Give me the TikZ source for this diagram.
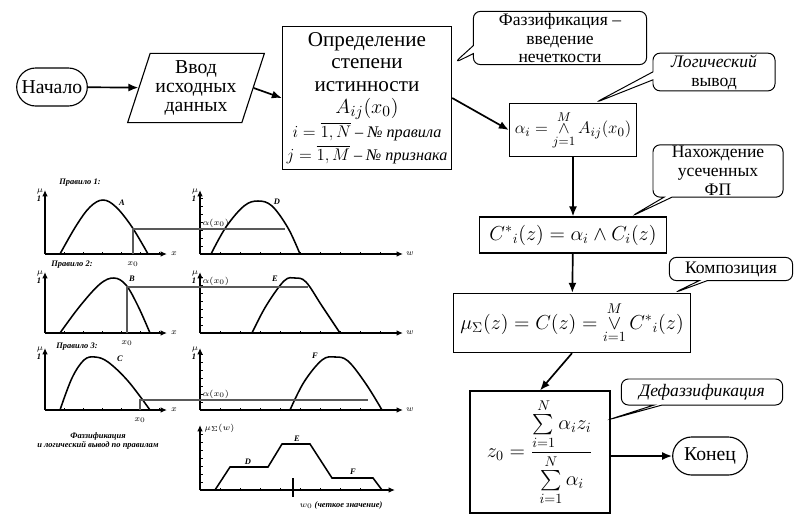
\documentclass[tikz,border=0pt]{standalone}
\usepackage{amsmath}
\usepackage{fontspec}
\setmainfont{Liberation Serif}
\usepackage{tikz}
\usetikzlibrary{arrows.meta, positioning, calc, shapes.geometric, shapes.misc, shapes.callouts}

\begin{document}
\begin{tikzpicture}[x=0.025cm, y=-0.025cm,
  block/.style={rectangle, draw, line width=0.8pt, align=center, inner sep=2pt},
  term/.style={rounded rectangle, draw, line width=0.8pt, minimum width=2cm, minimum height=0.95cm, font=\fontsize{14}{15}\selectfont},
  note/.style={rectangle callout, draw, line width=0.7pt, rounded corners=5pt, align=center, callout pointer width=0.2cm, inner sep=1pt, font=\fontsize{12.5}{13.5}\selectfont},
  arrow/.style={-{Latex[length=2.5mm, width=2mm]}, line width=1.2pt},
  axis/.style={-{Latex[length=1.6mm, width=1.4mm]}, line width=1pt},
  curve/.style={line width=1.1pt},
  cut/.style={gray!70!black, line width=1pt},
  lbl/.style={font=\fontsize{6}{7}\selectfont\itshape\bfseries, inner sep=1pt}
]
\useasboundingbox (0,0) rectangle (801,514);
% flowchart
\node[term] (start) at (52,87) {Начало};
\node[trapezium, trapezium left angle=70, trapezium right angle=110, trapezium stretches=true, draw, line width=0.8pt, minimum width=3.43cm, minimum height=1.73cm, align=center, inner sep=0pt, font=\fontsize{14}{13.5}\selectfont] (input) at (196,88) {Ввод\\исходных\\данных};
\node[block, minimum width=4.23cm, minimum height=3.58cm, font=\fontsize{15}{16}\selectfont] (degree) at (367,98) {Определение\\степени\\истинности\\$A_{ij}(x_0)$\\[1pt]{\fontsize{11.5}{17}\selectfont $i=\overline{1,N}$ -- \textit{№ правила}}\\{\fontsize{11.5}{17}\selectfont $j=\overline{1,M}$ -- \textit{№ признака}}};
\node[block, minimum width=3.18cm, minimum height=1.33cm, font=\fontsize{13}{15}\selectfont] (alpha) at (573,130) {$\alpha_i=\mathop{\wedge}\limits_{j=1}^{M}A_{ij}(x_0)$};
\node[block, minimum width=4.68cm, minimum height=0.9cm, font=\Large] (cstar) at (573,235) {$C^{*}{}_{i}(z)=\alpha_i\wedge C_i(z)$};
\node[block, minimum width=5.93cm, minimum height=1.48cm, font=\Large] (mu) at (572,323) {$\mu_{\Sigma}(z)=C(z)=\mathop{\vee}\limits_{i=1}^{M}C^{*}{}_{i}(z)$};
\node[block, minimum width=3.5cm, minimum height=3.05cm, font=\Large] (zzero) at (540,452) {$z_0=\dfrac{\sum\limits_{i=1}^{N}\alpha_i z_i}{\sum\limits_{i=1}^{N}\alpha_i}$};
\node[term, minimum width=2.1cm] (finish) at (710,456) {Конец};
% callout tips
\coordinate (tipfuzz) at ($(degree.east)+(2,-35)$);
\coordinate (tiplogic) at ($(alpha.north)+(22,0)$);
\coordinate (tipcut) at ($(cstar.north east)+(-36,0)$);
\coordinate (tipcomp) at ($(mu.north east)+(-17,0)$);
\coordinate (tipdefuzz) at ($(zzero.east)+(-3,-32)$);
\node[note, minimum width=4.33cm, minimum height=1.33cm, callout absolute pointer={(tipfuzz)}] (fuzz) at (560,38) {Фаззификация --\\введение\\нечеткости};
\node[note, minimum width=3.05cm, minimum height=0.88cm, callout absolute pointer={(tiplogic)}] (logic) at (714,72) {\textit{Логический}\\вывод};
\node[note, minimum width=3.25cm, minimum height=1.18cm, callout absolute pointer={(tipcut)}] (cut) at (718,171) {Нахождение\\усеченных\\ФП};
\node[note, minimum width=3.08cm, minimum height=0.58cm, callout absolute pointer={(tipcomp)}] (comp) at (731,269) {Композиция};
\node[note, minimum width=4.03cm, minimum height=0.65cm, callout absolute pointer={(tipdefuzz)}, font=\fontsize{12.5}{13.5}\selectfont\itshape] (defuzz) at (702,392) {Дефаззификация};
\draw[arrow] (start) -- (input);
\draw[arrow] (input.east) -- (degree.west);
\draw[arrow] (degree.east) -- (alpha.west);
\draw[arrow] (alpha) -- (cstar);
\draw[arrow] (cstar) -- (mu);
\draw[arrow] (mu.south) -- (zzero.north);
\draw[arrow] (finish.west -| zzero.east) -- (finish.west);
% rule graphs
\foreach \oy/\top in {254/190, 333/272, 410/348} {
  \draw[axis] (45,\oy) -- (45,\top);
  \draw[axis] (45,\oy) -- (167,\oy);
  \foreach \t in {64,83,...,160} \draw (\t,\oy) -- (\t,\oy-2);
  \draw[axis] (200,\oy) -- (200,\top);
  \draw[axis] (200,\oy) -- (403,\oy);
  \foreach \t in {220,240,...,390} \draw (\t,\oy) -- (\t,\oy-2);
  \foreach \t in {8,16,...,56} \draw (200,\oy-\t) -- (203,\oy-\t);
  \node[lbl] at (40,\top+1) {$\mu$};
  \node[lbl] at (39,\top+9) {1};
  \node[lbl] at (195,\top+1) {$\mu$};
  \node[lbl] at (194,\top+9) {1};
  \node[lbl] at (174,\oy) {$x$};
  \node[lbl] at (410,\oy) {$w$};
}
\draw[axis] (200,490) -- (200,425);
\draw[axis] (200,490) -- (395,490);
\foreach \t in {220,240,...,380} \draw (\t,490) -- (\t,488);
\foreach \t in {8,16,...,56} \draw (200,490-\t) -- (203,490-\t);
\node[lbl] at (80,183) {Правило 1:};
\node[lbl] at (72,265) {Правило 2:};
\node[lbl] at (77,347) {Правило 3:};
\draw[curve] plot[smooth, tension=0.6] coordinates {(60,254) (76,226) (90,207) (103,200) (116,207) (132,227) (148,254)};
\draw[curve] plot[smooth, tension=0.6] coordinates {(211,254) (226,227) (244,206) (258,201) (272,206) (288,228) (300,254)};
\draw[curve] plot[smooth, tension=0.6] coordinates {(60,333) (80,306) (100,284) (114,278) (126,285) (138,306) (150,333)};
\draw[curve] plot[smooth, tension=0.6] coordinates {(252,333) (266,306) (284,281) (295,278) (306,282) (322,306) (340,333)};
\draw[curve] plot[smooth, tension=0.6] coordinates {(60,410) (72,378) (84,360) (95,357) (108,362) (128,381) (150,410)};
\draw[curve] plot[smooth, tension=0.6] coordinates {(290,410) (304,382) (322,360) (335,357) (348,361) (366,384) (382,410)};
\draw[curve] (215,490) -- (230,467) -- (268,467) -- (282,444) -- (310,444) -- (332,478) -- (373,478) -- (382,490);
\draw[cut] (133,254) -- (133,229) -- (285,229);
\draw[cut] (127,333) -- (127,287) -- (308,287);
\draw[cut] (140,410) -- (140,400) -- (368,400);
\node[lbl] at (122,203) {A};
\node[lbl] at (132,279) {B};
\node[lbl] at (120,359) {C};
\node[lbl] at (277,202) {D};
\node[lbl] at (275,279) {E};
\node[lbl] at (315,356) {F};
\node[lbl] at (133,264) {$x_0$};
\node[lbl] at (127,343) {$x_0$};
\node[lbl] at (140,420) {$x_0$};
\node[lbl, anchor=south west] at (201,229) {$\alpha(x_0)$};
\node[lbl, anchor=south west] at (201,287) {$\alpha(x_0)$};
\node[lbl, anchor=south west] at (201,400) {$\alpha(x_0)$};
\node[lbl, anchor=west] at (203,428) {$\mu_{\Sigma}(w)$};
\node[lbl] at (248,462) {D};
\node[lbl] at (297,439) {E};
\node[lbl] at (353,472) {F};
\draw[line width=1pt] (293,478) -- (293,497);
\node[lbl] at (341,505) {$w_0$ (четкое значение)};
\node[lbl, align=center] at (98,441) {Фаззификация\\и логический вывод по правилам};
\end{tikzpicture}
\end{document}
